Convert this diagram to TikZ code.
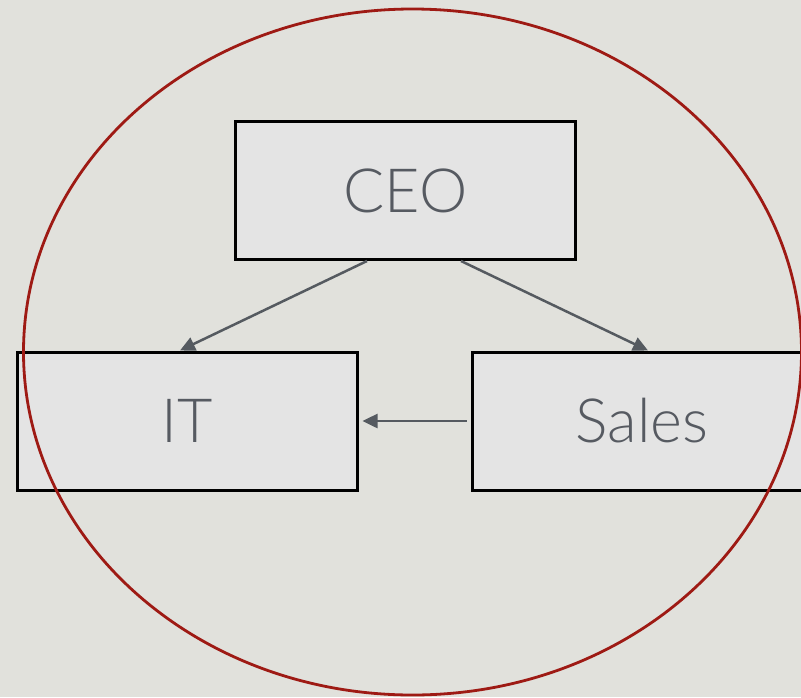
\documentclass[tikz,border=0pt]{standalone}
\usepackage{fontspec}
\IfFontExistsTF{Lato Light}{\setmainfont{Lato Light}}{\setmainfont{TeX Gyre Heros}}
\usetikzlibrary{arrows.meta}
\definecolor{bgcol}{HTML}{E1E1DC}
\definecolor{boxfill}{HTML}{E4E4E4}
\definecolor{txtcol}{HTML}{565A61}
\definecolor{arrcol}{HTML}{555A60}
\definecolor{ringcol}{HTML}{9E1A14}
\tikzset{
  orgbox/.style={draw=black, line width=3pt, fill=boxfill, minimum width=340pt, minimum height=138pt, inner sep=0pt, text=txtcol, font=\fontsize{61}{63}\selectfont},
  link/.style={draw=arrcol, line width=2.5pt, -{Triangle[length=15pt,width=14pt]}},
  ring/.style={draw=ringcol, line width=2.8pt}
}
\begin{document}
\begin{tikzpicture}[x=1pt,y=-1pt]
\path[fill=bgcol] (0,0) rectangle (801,697);
\useasboundingbox (0,0) rectangle (801,697);
\clip (0,0) rectangle (801,697);
\node[orgbox] (ceo) at (405.5,190.5) {CEO};
\node[orgbox] (it) at (187,421) {IT};
\node[orgbox] (sales) at (642,421) {Sales};
\draw[link] ([xshift=-38.5pt]ceo.south) -- ([xshift=-7pt]it.north);
\draw[link] ([xshift=55.5pt]ceo.south) -- ([xshift=6pt]sales.north);
\draw[link] ([xshift=-4pt]sales.west) -- ([xshift=4pt]it.east);
\draw[ring] (412.5,352) ellipse [x radius=389, y radius=343];
\end{tikzpicture}
\end{document}
